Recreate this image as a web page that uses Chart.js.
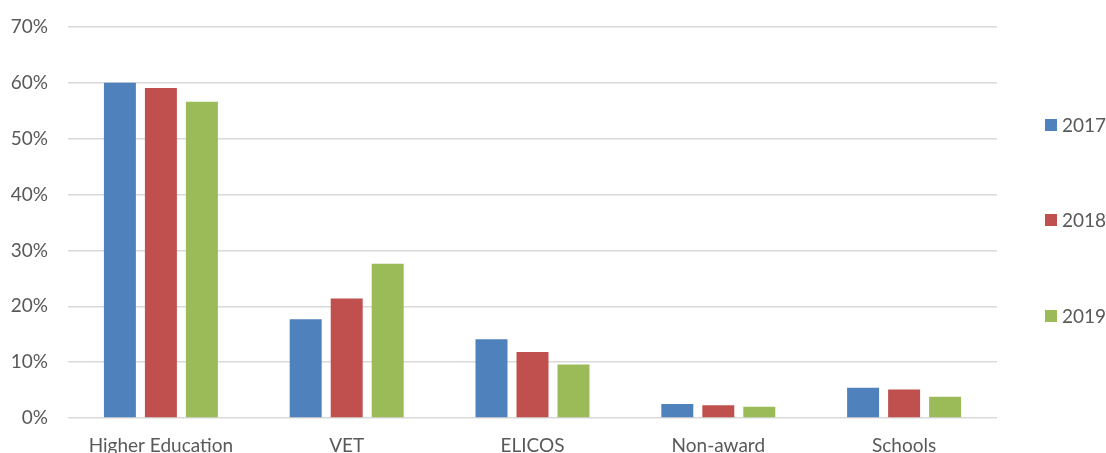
<!DOCTYPE html>
<html lang="en">
<head>
    <meta charset="UTF-8">
    <title>Share by sector</title>
    <script src="https://cdn.jsdelivr.net/npm/chart.js"></script>
    <style>
        html, body { margin: 0; padding: 0; background: #fff; overflow: hidden; }
        #wrap { width: 1106px; height: 453px; }
    </style>
</head>
<body>
    <div id="wrap"><canvas id="sectorChart"></canvas></div>

    <script>
        const sectors = ["Higher Education", "VET", "ELICOS", "Non-award", "Schools"];
        const years = ["2017", "2018", "2019"];
        const share2017 = [60.0, 17.7, 14.1, 2.5, 5.4];
        const share2018 = [59.1, 21.4, 11.8, 2.3, 5.1];
        const share2019 = [56.6, 27.6, 9.6, 2.0, 3.8];
        const yTicks = [0, 10, 20, 30, 40, 50, 60, 70];

        const colors = ["#4F81BD", "#C0504D", "#9BBB59"];
        const font = "Lato, 'Liberation Sans', sans-serif";

        // legend on the right, items spread out like the original
        const sideLegend = {
            id: "sideLegend",
            afterDraw(chart) {
                const ctx = chart.ctx;
                const rows = [125, 220, 316];
                ctx.save();
                ctx.font = "19px " + font;
                ctx.textBaseline = "middle";
                chart.data.datasets.forEach((ds, i) => {
                    ctx.fillStyle = ds.backgroundColor;
                    ctx.fillRect(1045, rows[i] - 6, 12, 12);
                    ctx.fillStyle = "#595959";
                    ctx.fillText(ds.label, 1062, rows[i] + 1);
                });
                ctx.restore();
            }
        };

        new Chart(document.getElementById("sectorChart"), {
            type: "bar",
            data: {
                labels: sectors,
                datasets: [
                    { label: years[0], data: share2017, backgroundColor: colors[0] },
                    { label: years[1], data: share2018, backgroundColor: colors[1] },
                    { label: years[2], data: share2019, backgroundColor: colors[2] }
                ]
            },
            options: {
                responsive: true,
                maintainAspectRatio: false,
                animation: false,
                categoryPercentage: 0.662,
                barPercentage: 0.78,
                layout: { padding: { left: 4, right: 109, top: 27, bottom: 0 } },
                plugins: {
                    legend: { display: false },
                    tooltip: { enabled: false }
                },
                scales: {
                    x: {
                        grid: { display: false, drawTicks: false },
                        border: { display: false },
                        ticks: { color: "#595959", font: { family: font, size: 19 }, padding: 16 },
                        afterFit: s => { s.height = 35; s.paddingLeft = 0; s.paddingRight = 0; }
                    },
                    y: {
                        min: 0,
                        max: 70,
                        afterBuildTicks: axis => { axis.ticks = yTicks.map(v => ({ value: v })); },
                        grid: { color: "#d9d9d9", lineWidth: 1.5, drawTicks: false },
                        border: { display: false },
                        ticks: {
                            color: "#595959",
                            font: { family: font, size: 19 },
                            padding: 20,
                            callback: v => v + "%"
                        },
                        afterFit: s => { s.width = 64; s.paddingTop = 0; s.paddingBottom = 0; }
                    }
                }
            },
            plugins: [sideLegend]
        });
    </script>
</body>
</html>
